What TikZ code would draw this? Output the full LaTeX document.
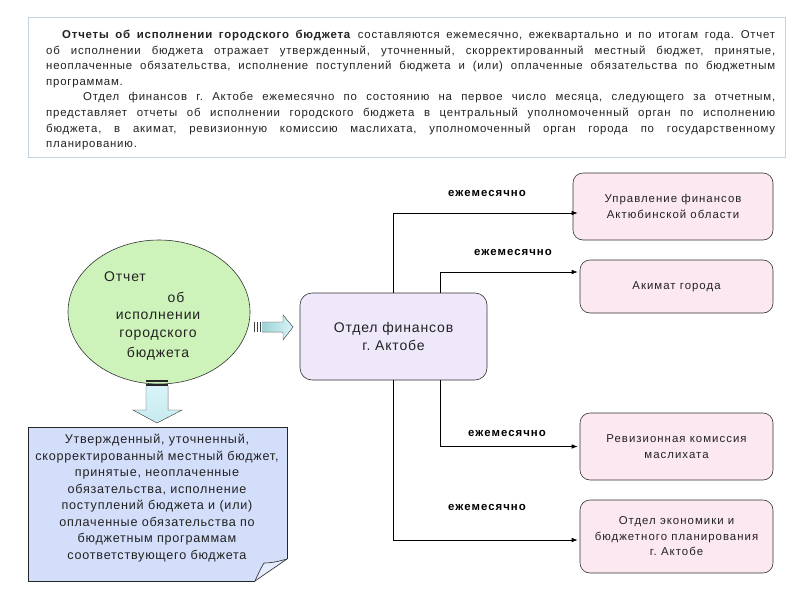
\documentclass[tikz,border=0pt]{standalone}
\usepackage{fontspec}
\setmainfont{Liberation Sans}
\newfontfamily\spacedfont[LetterSpace=6]{Liberation Sans}
\newfontfamily\topfont[LetterSpace=7]{Liberation Sans}
\newfontfamily\boxfont[LetterSpace=9]{Liberation Sans}
\newfontfamily\lblfont[LetterSpace=9]{Liberation Sans}
\frenchspacing
\usetikzlibrary{arrows.meta,shapes.geometric}
\definecolor{topborder}{HTML}{C3D3DC}
\definecolor{ellfill}{HTML}{CDF2BA}
\definecolor{notefill}{HTML}{D3DEFA}
\definecolor{finfill}{HTML}{EFE8FB}
\definecolor{pinkfill}{HTML}{FCE8F1}
\definecolor{arrfillA}{HTML}{9ED3D6}
\definecolor{arrfillB}{HTML}{D8F4F8}
\definecolor{txt}{HTML}{222222}
\tikzset{
  pinkbox/.style={draw=black!80, line width=0.6pt, rounded corners=10pt, fill=pinkfill,
    minimum width=200pt, align=center, text=txt, font=\boxfont\fontsize{11.4}{15.5}\selectfont},
  finbox/.style={draw=black!80, line width=0.6pt, rounded corners=12pt, fill=finfill,
    minimum width=187pt, minimum height=87pt, align=center, text=txt, font=\spacedfont\fontsize{14}{18}\selectfont},
  ellt/.style={text=txt, font=\spacedfont\fontsize{14}{16}\selectfont, inner sep=0pt},
  lbl/.style={font=\lblfont\bfseries\fontsize{11.4}{13}\selectfont, text=black, inner sep=0pt},
  conn/.style={draw=black, line width=0.6pt, -{Latex[length=6pt,width=4.5pt]}},
}
\begin{document}
\begin{tikzpicture}[x=1pt,y=-1pt]
\useasboundingbox (0,0) rectangle (800,600);
\fill[white] (0,0) rectangle (800,600);

% top text box
\node[draw=topborder, line width=1pt, minimum width=757pt, minimum height=140pt, anchor=north west, inner sep=0pt] (topbox) at (28,17) {};
\node[anchor=north west, inner sep=0pt, text width=729pt, align=justify, text=txt,
      font=\topfont\fontsize{11.4}{15.6}\selectfont] (toptext) at (46,30) {%
\hspace*{16pt}\textbf{Отчеты об исполнении городского бюджета} составляются ежемесячно, ежеквартально и по итогам года. Отчет\linebreak
об исполнении бюджета отражает утвержденный, уточненный, скорректированный местный бюджет, принятые,\linebreak
неоплаченные обязательства, исполнение поступлений бюджета и (или) оплаченные обязательства по бюджетным\linebreak
программам.\par
\hspace*{37pt}Отдел финансов г. Актобе ежемесячно по состоянию на первое число месяца, следующего за отчетным,\linebreak
представляет отчеты об исполнении городского бюджета в центральный уполномоченный орган по исполнению\linebreak
бюджета, в акимат, ревизионную комиссию маслихата, уполномоченный орган города по государственному\linebreak
планированию.};

% ellipse
\node[ellipse, draw=black!80, line width=0.6pt, fill=ellfill, minimum width=182pt, minimum height=144pt, inner sep=0pt] (rep) at (159,312) {};
\node[ellt] (e1) at (125,277) {Отчет};
\node[ellt] (e2) at (176,297) {об};
\node[ellt] (e3) at (158,316) {исполнении};
\node[ellt] (e4) at (158,335) {городского};
\node[ellt] (e5) at (158,354) {бюджета};

% right block arrow
\fill[left color=arrfillA, right color=arrfillB] (262,322) -- (283,322) -- (283,315) -- (293,327) -- (283,340) -- (283,332) -- (262,332) -- cycle;
\draw[black!70, line width=0.4pt] (262,322) -- (283,322) -- (283,315) -- (293,327) -- (283,340) -- (283,332) -- (262,332);
\foreach \xx in {253.5,256.5,259.5}{
  \fill[black!75] (\xx,322) rectangle ++(1.4,10);
}

% down block arrow
\fill[top color=arrfillB, bottom color=arrfillB!70!arrfillA] (146,386) -- (168,386) -- (168,410) -- (182,410) -- (157,423) -- (133,410) -- (146,410) -- cycle;
\draw[black!70, line width=0.4pt] (146,386) -- (146,410) -- (133,410) -- (157,423) -- (182,410) -- (168,410) -- (168,386);
\fill[black!85] (146,380) rectangle (168,382);
\fill[black!85] (146,383.5) rectangle (168,385.5);

% note box with folded corner
\fill[notefill] (28,427) -- (287,427) -- (287,559) -- (255,581) -- (28,581) -- cycle;
\draw[black!85, line width=0.7pt] (255,581) -- (28,581) -- (28,427) -- (287,427) -- (287,559);
\fill[notefill!60!white] (255,581) .. controls (259,572) and (262,566) .. (264,563) .. controls (272,563) and (280,561) .. (287,559) -- cycle;
\draw[black!85, line width=0.6pt] (287,559) .. controls (280,561) and (272,563) .. (264,563) .. controls (262,566) and (259,572) .. (255,581);
\draw[black!85, line width=0.6pt] (287,559) -- (255,581);
\node[align=center, text=txt, inner sep=0pt, font=\spacedfont\fontsize{12.6}{16.5}\selectfont] (note) at (157,498) {Утвержденный, уточненный,\\скорректированный местный бюджет,\\принятые, неоплаченные\\обязательства, исполнение\\поступлений бюджета и (или)\\оплаченные обязательства по\\бюджетным программам\\соответствующего бюджета};

% center box
\node[finbox] (fin) at (393.5,336.5) {Отдел финансов\\г. Актобе};

% target boxes
\node[pinkbox, minimum width=200pt, minimum height=67pt] (b1) at (673,206.5) {Управление финансов\\Актюбинской области};
\node[pinkbox, minimum width=193pt, minimum height=53pt] (b2) at (676.5,286.5) {Акимат города};
\node[pinkbox, minimum width=193pt, minimum height=67pt] (b3) at (676.5,446.5) {Ревизионная комиссия\\маслихата};
\node[pinkbox, minimum width=193pt, minimum height=73pt] (b4) at (676.5,536.5) {Отдел экономики и\\бюджетного планирования\\г. Актобе};

% connectors
\draw[conn] (fin.north) |- ([yshift=-6.5pt,xshift=5pt]b1.west);
\draw[conn] ([xshift=46.5pt]fin.north) |- ([yshift=14.5pt,xshift=-2pt]b2.west);
\draw[conn] ([xshift=46.5pt]fin.south) |- ([yshift=0pt,xshift=-2pt]b3.west);
\draw[conn] (fin.south) |- ([yshift=-3.5pt,xshift=-2pt]b4.west);

% labels
\node[lbl] (l1) at (487,193) {ежемесячно};
\node[lbl] (l2) at (513,252) {ежемесячно};
\node[lbl] (l3) at (507,433) {ежемесячно};
\node[lbl] (l4) at (487,507) {ежемесячно};
\end{tikzpicture}
\end{document}
